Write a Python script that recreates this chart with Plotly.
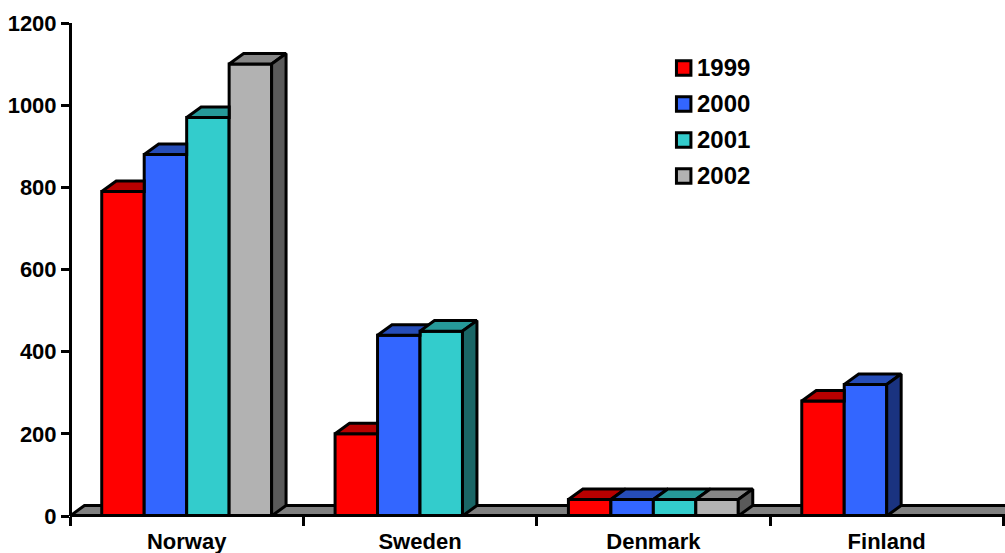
import plotly.graph_objects as go

categories = ["Norway", "Sweden", "Denmark", "Finland"]
years = ["1999", "2000", "2001", "2002"]
values_1999 = [790, 200, 40, 280]
values_2000 = [880, 440, 40, 320]
values_2001 = [970, 450, 40, None]
values_2002 = [1100, None, 40, None]
series = [values_1999, values_2000, values_2001, values_2002]
y_ticks = [0, 200, 400, 600, 800, 1000, 1200]

front_colors = ["#ff0000", "#3366ff", "#33cccc", "#b2b2b2"]
top_colors = ["#b80000", "#264db8", "#269999", "#868686"]
side_colors = ["#800000", "#1a3380", "#1a6666", "#5a5a5a"]

FONT = "Liberation Sans"
OUTLINE = 3
BAR_WIDTH = 0.182      # one bar, in category units
GROUP_GAP = 1 - 4 * BAR_WIDTH
DX = 0.062             # oblique depth along x, category units
DY = 25.6              # oblique depth along y, value units

# Canvas layout in pixels: the plot area starts at (70, 516) and the axis
# lines are centred on its edges.
WIDTH, HEIGHT = 1005, 553
M_LEFT, M_BOTTOM, M_TOP = 60, 30, 23
PLOT_LEFT, PLOT_BOTTOM = 70, 516
AREA_W = WIDTH - M_LEFT
AREA_H = HEIGHT - M_TOP - M_BOTTOM
DOM_X = (PLOT_LEFT - M_LEFT) / AREA_W
DOM_Y = (HEIGHT - PLOT_BOTTOM - M_BOTTOM) / AREA_H

fig = go.Figure()


def bar_left(cat, idx):
    return cat + GROUP_GAP / 2 + idx * BAR_WIDTH


def add_face(xs, ys, color):
    fig.add_trace(go.Scatter(
        x=xs, y=ys, mode="lines", fill="toself", fillcolor=color,
        line=dict(color="black", width=OUTLINE), showlegend=False,
        hoverinfo="skip",
    ))


# Front faces are ordinary grouped bars.
for idx, year in enumerate(years):
    fig.add_trace(go.Bar(
        x=[c + 0.5 for c in range(len(categories))], y=series[idx], name=year,
        showlegend=False,
        marker=dict(color=front_colors[idx], line=dict(color="black", width=OUTLINE)),
    ))

# Oblique top and side faces, painted left to right. A top face stops where
# the next bar in its group covers it.
for idx in range(len(years)):
    top_x, top_y, side_x, side_y = [], [], [], []
    for cat in range(len(categories)):
        v = series[idx][cat]
        if v is None:
            continue
        x0 = bar_left(cat, idx)
        x1 = x0 + BAR_WIDTH
        nxt = series[idx + 1][cat] if idx + 1 < len(years) else None
        if nxt is not None and nxt >= v + DY:
            xs = [x0, x0 + DX, x1, x1, x0]
            ys = [v, v + DY, v + DY, v, v]
        elif nxt is not None and nxt > v:
            t = (nxt - v) / DY
            xs = [x0, x0 + DX, x1 + DX, x1 + DX * t, x1, x1, x0]
            ys = [v, v + DY, v + DY, nxt, nxt, v, v]
        else:
            xs = [x0, x0 + DX, x1 + DX, x1, x0]
            ys = [v, v + DY, v + DY, v, v]
        top_x += xs + [None]
        top_y += ys + [None]
        if nxt is None or nxt < v:
            side_x += [x1, x1 + DX, x1 + DX, x1, x1, None]
            side_y += [0, DY, v + DY, v, 0, None]
    add_face(top_x, top_y, top_colors[idx])
    if side_x:
        add_face(side_x, side_y, side_colors[idx])

# Grey floor behind the bars.
floor_end = 4.2
floor_path = f"M 0 0 L {DX} {DY} L {floor_end} {DY} L {floor_end} 0 Z"
shapes = [dict(type="path", path=floor_path, xref="x", yref="y", layer="below",
               fillcolor="#808080", line=dict(color="black", width=OUTLINE))]

# Key: swatches and labels placed on the data axes.
KEY_X0, KEY_X1, KEY_TEXT_X = 2.599, 2.661, 2.687
KEY_TOP, KEY_STEP, KEY_HALF = 1090.5, 87.6, 17.6
annotations = []
for idx, year in enumerate(years):
    yc = KEY_TOP - idx * KEY_STEP
    shapes.append(dict(type="rect", xref="x", yref="y", layer="above",
                       x0=KEY_X0, x1=KEY_X1, y0=yc - KEY_HALF, y1=yc + KEY_HALF,
                       fillcolor=front_colors[idx],
                       line=dict(color="black", width=OUTLINE)))
    annotations.append(dict(
        x=KEY_TEXT_X, y=yc, xref="x", yref="y", text=year, showarrow=False,
        xanchor="left", yanchor="middle", xshift=-1.5,
        font=dict(family=FONT, size=24, color="black", weight=700),
    ))

fig.update_layout(
    width=WIDTH, height=HEIGHT, autosize=False,
    margin=dict(l=M_LEFT, r=0, t=M_TOP, b=M_BOTTOM),
    paper_bgcolor="white", plot_bgcolor="white",
    barmode="group", bargap=GROUP_GAP, bargroupgap=0,
    font=dict(family=FONT, color="black"),
    showlegend=False,
    shapes=shapes, annotations=annotations,
    xaxis=dict(
        domain=[DOM_X, 1], anchor="free", position=DOM_Y + OUTLINE / 2 / AREA_H,
        range=[0, 4.007], showgrid=False, zeroline=False,
        showline=True, linecolor="black", linewidth=OUTLINE,
        tickmode="array", tickvals=[c + 0.5 for c in range(len(categories))],
        ticktext=categories, ticks="", ticklen=0, ticklabelstandoff=6,
        tickfont=dict(family=FONT, size=22, color="black", weight=700),
        minor=dict(tickmode="array", tickvals=list(range(len(categories) + 1)),
                   ticks="outside", ticklen=9, tickwidth=2.5, tickcolor="black",
                   showgrid=False),
    ),
    yaxis=dict(
        domain=[DOM_Y, 1], anchor="free", position=DOM_X,
        range=[0, 1200], showgrid=False, zeroline=False,
        showline=True, linecolor="black", linewidth=OUTLINE,
        tickmode="array", tickvals=y_ticks, ticks="outside", ticklen=8,
        tickwidth=2.5, tickcolor="black",
        tickfont=dict(family=FONT, size=22, color="black", weight=700),
    ),
)

fig.write_html("out.html", config=dict(displayModeBar=False))
